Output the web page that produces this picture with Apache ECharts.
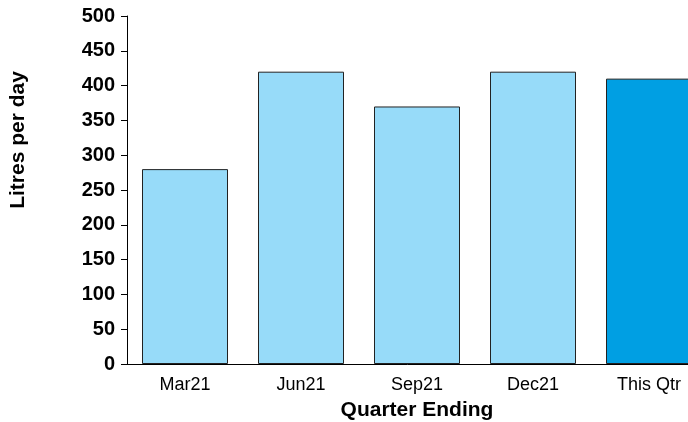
<!DOCTYPE html>
<html lang="en">

<head>
  <meta charset="UTF-8">
  <title>Litres per day</title>
  <script src="https://cdn.jsdelivr.net/npm/echarts@6.0.0/dist/echarts.min.js"></script>
  <style>
    body { margin: 0; background: #fff; }
  </style>
</head>

<body>
  <div id="main" style="width: 688px;height:422px;"></div>

  <script type="text/javascript">
    // values
    let quarters = ['Mar21', 'Jun21', 'Sep21', 'Dec21', 'This Qtr'];
    let litres = [280, 420, 370, 420, 410];
    let yTicks = [0, 50, 100, 150, 200, 250, 300, 350, 400, 450, 500];

    let pastColour = '#97dbf9';
    let currentColour = '#009fe3';

    let barData = litres.map((v, i) => ({
      value: v,
      itemStyle: { color: i == litres.length - 1 ? currentColour : pastColour }
    }));

    let options = {
      animation: false,
      // the last bar runs off the right edge in the original, so let the grid overflow
      grid: { left: 127, top: 16, width: 580, height: 348, outerBoundsMode: 'none', containLabel: false },
      xAxis: {
        type: 'category',
        data: quarters,
        name: 'Quarter Ending',
        nameLocation: 'middle',
        nameGap: 36,
        nameTextStyle: { fontFamily: 'Liberation Sans', fontWeight: 'bold', fontSize: 21, color: '#000' },
        axisLine: { lineStyle: { color: '#000', width: 1 } },
        axisTick: { alignWithLabel: true, length: 6, lineStyle: { color: '#000' } },
        axisLabel: { fontFamily: 'Liberation Sans', fontSize: 18, color: '#000', margin: 12 }
      },
      yAxis: {
        type: 'value',
        min: yTicks[0],
        max: yTicks[yTicks.length - 1],
        interval: yTicks[1] - yTicks[0],
        name: 'Litres per day',
        nameLocation: 'middle',
        nameGap: 98,
        nameRotate: 90,
        nameTextStyle: {
          fontFamily: 'Liberation Sans', fontWeight: 'bold', fontSize: 21, color: '#000',
          padding: [0, 0, 0, 100]
        },
        axisLine: { show: true, lineStyle: { color: '#000', width: 1 } },
        axisTick: { show: true, length: 6, lineStyle: { color: '#000' } },
        splitLine: { show: false },
        axisLabel: { fontFamily: 'Liberation Sans', fontWeight: 'bold', fontSize: 20, color: '#000', margin: 12 }
      },
      series: [{
        type: 'bar',
        data: barData,
        barWidth: 86,
        itemStyle: { borderColor: '#222', borderWidth: 1 }
      }]
    };

    let myChart = echarts.init(document.getElementById('main'));
    myChart.setOption(options);
  </script>

</body>

</html>
